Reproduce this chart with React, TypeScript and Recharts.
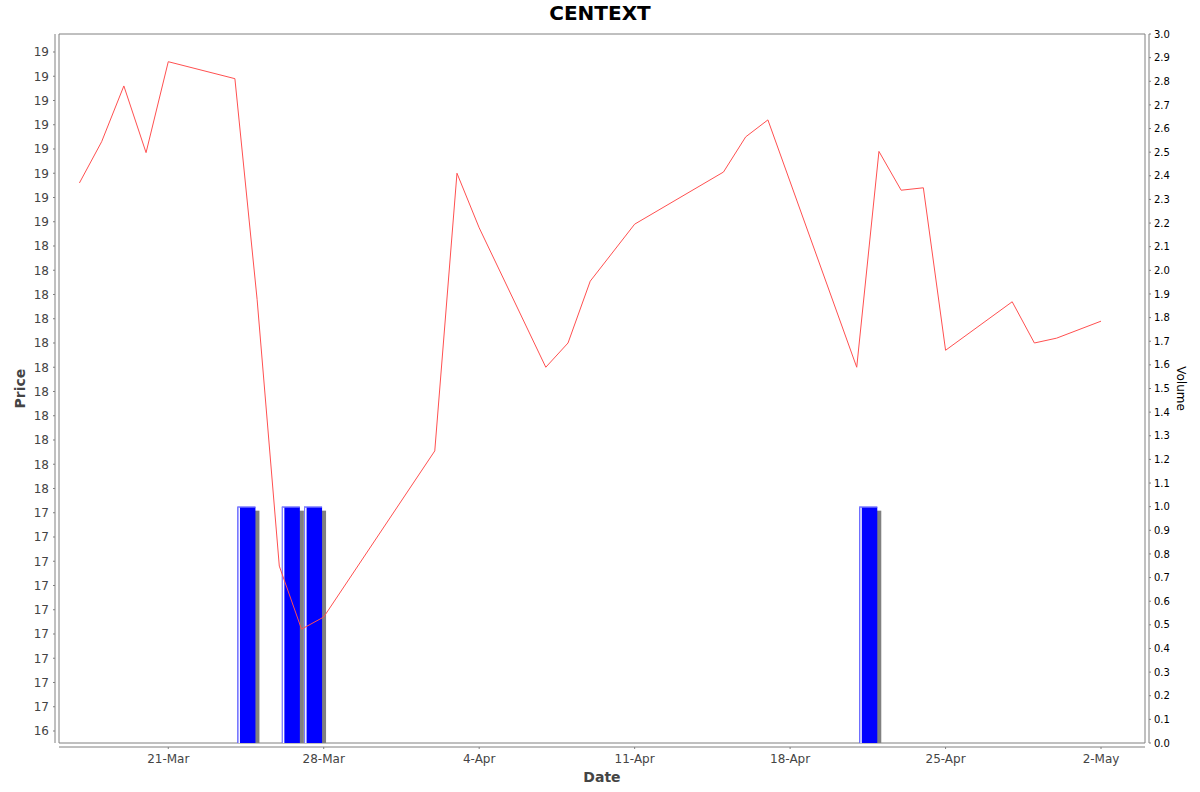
import React from 'react';
import { ComposedChart, Line, Bar, XAxis, YAxis, ReferenceArea } from 'recharts';

// ---- data ----
const priceDates = [
  '2025-03-17', '2025-03-18', '2025-03-19', '2025-03-20', '2025-03-21',
  '2025-03-24', '2025-03-25', '2025-03-26', '2025-03-27', '2025-03-28',
  '2025-04-02', '2025-04-03', '2025-04-04', '2025-04-07', '2025-04-08',
  '2025-04-09', '2025-04-11', '2025-04-15', '2025-04-16', '2025-04-17',
  '2025-04-21', '2025-04-22', '2025-04-23', '2025-04-24', '2025-04-25',
  '2025-04-28', '2025-04-29', '2025-04-30', '2025-05-02',
];
const priceValues = [
  18.76, 18.93, 19.16, 18.885, 19.26,
  19.19, 18.28, 17.18, 16.92, 16.97,
  17.655, 18.8, 18.575, 18.0, 18.1,
  18.355, 18.59, 18.805, 18.95, 19.02,
  18.0, 18.89, 18.73, 18.74, 18.07,
  18.27, 18.1, 18.12, 18.19,
];
const volumeDates = ['2025-03-24', '2025-03-26', '2025-03-27', '2025-04-21'];
const volumeValues = [1, 1, 1, 1];

const dateTicks = ['2025-03-21', '2025-03-28', '2025-04-04', '2025-04-11', '2025-04-18', '2025-04-25', '2025-05-02'];
const priceTicks = [
  16.5, 16.6, 16.7, 16.8, 16.9, 17.0, 17.1, 17.2, 17.3, 17.4,
  17.5, 17.6, 17.7, 17.8, 17.9, 18.0, 18.1, 18.2, 18.3, 18.4,
  18.5, 18.6, 18.7, 18.8, 18.9, 19.0, 19.1, 19.2, 19.3,
];
const volumeTicks = [
  0.0, 0.1, 0.2, 0.3, 0.4, 0.5, 0.6, 0.7, 0.8, 0.9,
  1.0, 1.1, 1.2, 1.3, 1.4, 1.5, 1.6, 1.7, 1.8, 1.9,
  2.0, 2.1, 2.2, 2.3, 2.4, 2.5, 2.6, 2.7, 2.8, 2.9, 3.0,
];
const monthNames = ['Jan', 'Feb', 'Mar', 'Apr', 'May', 'Jun', 'Jul', 'Aug', 'Sep', 'Oct', 'Nov', 'Dec'];

// ---- helpers ----
const DAY = 86400000;
const toMs = (s: string) => Date.parse(s + 'T00:00:00Z');
const X_MIN = toMs('2025-03-17') - 0.92 * DAY;
const X_MAX = toMs('2025-05-02') + 1.98 * DAY;
const PRICE_DOMAIN = [16.4505, 19.3742];
const VOLUME_DOMAIN = [0, 3.0];

const rows = [
  ...priceDates.map((d, i) => ({ t: toMs(d), price: priceValues[i] })),
  ...volumeDates.map((d, i) => ({ t: toMs(d) + DAY / 2, volume: volumeValues[i] })),
].sort((a, b) => a.t - b.t);

const FONT = 'DejaVu Sans, Verdana, sans-serif';
const AXIS_GRAY = '#808080';

const fmtDate = (ms: number) => {
  const d = new Date(ms);
  return `${d.getUTCDate()}-${monthNames[d.getUTCMonth()]}`;
};
const roundHalfEven = (v: number) => {
  const tenths = Math.round(v * 10);
  const whole = Math.floor(tenths / 10);
  const rem = tenths - whole * 10;
  if (rem > 5) return whole + 1;
  if (rem < 5) return whole;
  return whole % 2 === 0 ? whole : whole + 1;
};

const XTick = (props: any) => {
  const { x, y, payload } = props;
  return (
    <g>
      <line x1={x} x2={x} y1={y + 4} y2={y + 6} stroke={AXIS_GRAY} />
      <text x={x} y={y + 20} textAnchor="middle" fontSize={12} fontFamily={FONT} fill="#444444">
        {fmtDate(payload.value)}
      </text>
    </g>
  );
};
const LeftTick = (props: any) => {
  const { x, y, payload } = props;
  return (
    <g>
      <line x1={x - 4} x2={x - 6} y1={y} y2={y} stroke={AXIS_GRAY} />
      <text x={x - 10} y={y} dy="0.36em" textAnchor="end" fontSize={12} fontFamily={FONT} fill="#444444">
        {String(roundHalfEven(payload.value))}
      </text>
    </g>
  );
};
const RightTick = (props: any) => {
  const { x, y, payload } = props;
  return (
    <g>
      <line x1={x + 4} x2={x + 6} y1={y} y2={y} stroke={AXIS_GRAY} />
      <text x={x + 9} y={y} dy="0.36em" textAnchor="start" fontSize={10} fontFamily={FONT} fill="#000000">
        {Number(payload.value).toFixed(1)}
      </text>
    </g>
  );
};

const VolBar = (props: any) => {
  const { x, y, width, height } = props;
  if (!(height > 0) || !isFinite(x) || !isFinite(y)) return null;
  const w = 18;
  const left = x + width / 2 - w / 2;
  return (
    <g>
      <rect x={left + 4} y={y + 4} width={w} height={height - 4} fill="#808080" />
      <rect x={left} y={y} width={w} height={height} fill="#0000ff" />
      <rect x={left} y={y} width={w} height={1} fill="#8080ff" />
      <rect x={left} y={y} width={1} height={height} fill="#8080ff" />
      <rect x={left + 1} y={y + 1} width={1.5} height={height - 1} fill="#ffffff" />
    </g>
  );
};

export default function App() {
  return (
    <div style={{ position: 'absolute', left: 0, top: 0, width: 1200, height: 792, background: '#ffffff' }}>
      <ComposedChart
        width={1200}
        height={792}
        data={rows}
        margin={{ top: 34, right: 0, bottom: 0, left: 0 }}
      >
        <XAxis
          dataKey="t"
          type="number"
          scale="linear"
          domain={[X_MIN, X_MAX]}
          allowDataOverflow
          ticks={dateTicks.map(toMs)}
          interval={0}
          height={49}
          tickSize={0}
          tickMargin={0}
          tickLine={false}
          axisLine={{ stroke: AXIS_GRAY, transform: 'translate(0,4)' } as any}
          tick={<XTick />}
        />
        <YAxis
          yAxisId="price"
          orientation="left"
          type="number"
          width={59}
          domain={PRICE_DOMAIN}
          allowDataOverflow
          ticks={priceTicks}
          interval={0}
          tickSize={0}
          tickMargin={0}
          tickLine={false}
          axisLine={{ stroke: AXIS_GRAY, transform: 'translate(-4,0)' } as any}
          tick={<LeftTick />}
        />
        <YAxis
          yAxisId="vol"
          orientation="right"
          type="number"
          width={55}
          domain={VOLUME_DOMAIN}
          allowDataOverflow
          ticks={volumeTicks}
          interval={0}
          tickSize={0}
          tickMargin={0}
          tickLine={false}
          axisLine={{ stroke: AXIS_GRAY, transform: 'translate(4,0)' } as any}
          tick={<RightTick />}
        />
        <ReferenceArea
          yAxisId="price"
          x1={X_MIN}
          x2={X_MAX}
          stroke={AXIS_GRAY}
          strokeWidth={1}
          fill="none"
          fillOpacity={0}
          ifOverflow="visible"
        />
        <Bar
          yAxisId="vol"
          dataKey="volume"
          barSize={18}
          shape={<VolBar />}
          isAnimationActive={false}
        />
        <Line
          yAxisId="price"
          type="linear"
          dataKey="price"
          stroke="#ff5050"
          strokeWidth={1}
          dot={false}
          activeDot={false}
          connectNulls
          isAnimationActive={false}
        />
      </ComposedChart>
      <svg
        width={1200}
        height={792}
        style={{ position: 'absolute', left: 0, top: 0, pointerEvents: 'none' }}
      >
        <text x={600} y={20} textAnchor="middle" fontSize={20} fontWeight="bold" fontFamily={FONT} fill="#000000">
          CENTEXT
        </text>
        <text x={602} y={782} textAnchor="middle" fontSize={14} fontWeight="bold" fontFamily={FONT} fill="#444444">
          Date
        </text>
        <text
          x={25}
          y={388.5}
          textAnchor="middle"
          fontSize={14}
          fontWeight="bold"
          fontFamily={FONT}
          fill="#444444"
          transform="rotate(-90, 25, 388.5)"
        >
          Price
        </text>
        <text
          x={1177}
          y={388.5}
          textAnchor="middle"
          fontSize={12}
          fontFamily={FONT}
          fill="#000000"
          transform="rotate(90, 1177, 388.5)"
        >
          Volume
        </text>
      </svg>
    </div>
  );
}
